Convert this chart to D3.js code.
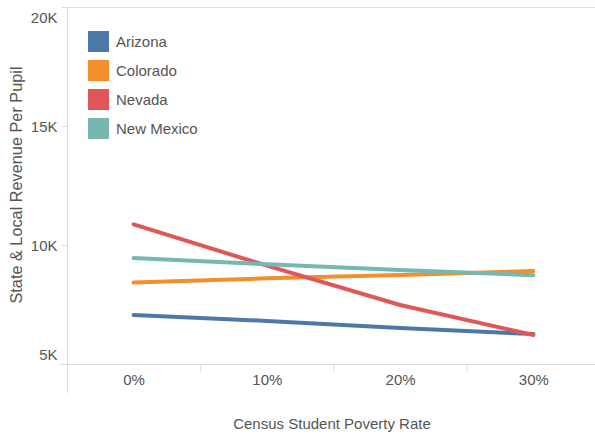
<!DOCTYPE html>
<html>
<head>
<meta charset="utf-8">
<script src="https://cdn.jsdelivr.net/npm/d3@7"></script>
<style>
  body { margin: 0; background: #fff; }
  text { font-family: "Liberation Sans", Arial, sans-serif; }
</style>
</head>
<body>
<div id="chart"></div>
<script>
const povertyRates = [0, 10, 20, 30];
const stateNames = ["Arizona", "Colorado", "Nevada", "New Mexico"];
const stateColors = ["#4e79a7", "#f28e2b", "#e15759", "#76b7b2"];
const arizonaValues = [7060, 6810, 6510, 6260];
const coloradoValues = [8420, 8600, 8740, 8910];
const nevadaValues = [10870, 9130, 7480, 6220];
const newMexicoValues = [9450, 9190, 8950, 8730];
const yTickValues = [5000, 10000, 15000, 20000];
const yTickLabels = ["5K", "10K", "15K", "20K"];
const xTickLabels = ["0%", "10%", "20%", "30%"];

const series = [arizonaValues, coloradoValues, nevadaValues, newMexicoValues];

const width = 595, height = 436;
const fontSize = "15px";
const svg = d3.select("#chart").append("svg")
    .attr("width", width)
    .attr("height", height);

const x = d3.scaleLinear().domain([-5, 35]).range([67, 600]);
const y = d3.scaleLinear().domain([5000, 20000]).range([364, 7]);

// frame lines
svg.append("line")
    .attr("x1", 67).attr("x2", width)
    .attr("y1", 7.5).attr("y2", 7.5)
    .attr("stroke", "#e2e2e2");
svg.append("line")
    .attr("x1", 67.5).attr("x2", 67.5)
    .attr("y1", 7).attr("y2", 393)
    .attr("stroke", "#dcdcdc");
svg.append("line")
    .attr("x1", 60).attr("x2", width)
    .attr("y1", 364.5).attr("y2", 364.5)
    .attr("stroke", "#dcdcdc");

// y axis ticks and labels
const yAxis = svg.append("g")
    .attr("transform", "translate(67.5,0)")
    .call(d3.axisLeft(y).tickValues(yTickValues).tickSize(6).tickPadding(4)
        .tickFormat((d, i) => yTickLabels[i]));
yAxis.select(".domain").remove();
yAxis.selectAll(".tick line").attr("stroke", "#dcdcdc");
yAxis.selectAll(".tick text")
    .attr("fill", "#555")
    .style("font-size", fontSize)
    .attr("dy", d => d === 20000 ? "1.0em" : d === 5000 ? "-0.3em" : "0.35em");

// x axis: separators between categories
const xSep = svg.append("g")
    .attr("transform", "translate(0,364.5)")
    .call(d3.axisBottom(x).tickValues([5, 15, 25]).tickSize(7).tickFormat(""));
xSep.select(".domain").remove();
xSep.selectAll(".tick line").attr("stroke", "#dcdcdc");

const xLab = svg.append("g")
    .attr("transform", "translate(0,364.5)")
    .call(d3.axisBottom(x).tickValues(povertyRates).tickSize(0).tickPadding(10)
        .tickFormat((d, i) => xTickLabels[i]));
xLab.select(".domain").remove();
xLab.selectAll(".tick text")
    .attr("fill", "#555")
    .style("font-size", fontSize);

// axis titles
svg.append("text")
    .attr("transform", "translate(22,185) rotate(-90)")
    .attr("text-anchor", "middle")
    .attr("fill", "#555")
    .style("font-size", "16.3px")
    .text("State & Local Revenue Per Pupil");

svg.append("text")
    .attr("x", 332)
    .attr("y", 429)
    .attr("text-anchor", "middle")
    .attr("fill", "#555")
    .style("font-size", fontSize)
    .text("Census Student Poverty Rate");

// lines
const line = d3.line()
    .x((d, i) => x(povertyRates[i]))
    .y(d => y(d));

series.forEach((vals, k) => {
    svg.append("path")
        .datum(vals)
        .attr("d", line)
        .attr("fill", "none")
        .attr("stroke", stateColors[k])
        .attr("stroke-width", 4)
        .attr("stroke-linecap", "round")
        .attr("stroke-linejoin", "round");
});

// legend
const legend = svg.append("g");
stateNames.forEach((name, i) => {
    const ly = 31 + i * 29;
    legend.append("rect")
        .attr("x", 88).attr("y", ly)
        .attr("width", 21).attr("height", 21)
        .attr("fill", stateColors[i]);
    legend.append("text")
        .attr("x", 116).attr("y", ly + 16)
        .attr("fill", "#555")
        .style("font-size", fontSize)
        .text(name);
});
</script>
</body>
</html>
